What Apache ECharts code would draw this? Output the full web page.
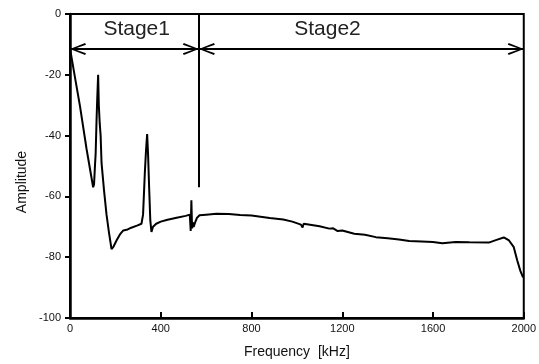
<!DOCTYPE html>
<html>
<head>
<meta charset="utf-8">
<script src="https://cdn.jsdelivr.net/npm/echarts@6/dist/echarts.min.js"></script>
<style>
  html, body { margin: 0; padding: 0; background: #fff; }
  #chart { width: 539px; height: 364px; }
</style>
</head>
<body>
<div id="chart"></div>
<script>
// frequency (kHz) and amplitude
const freq = [
  0, 20, 44, 73, 102, 106, 110, 113, 117, 120, 124, 127, 131, 135, 139, 150, 161, 172, 183,
  192, 205, 220, 235, 250, 270, 295, 315, 322, 330, 335, 340, 344, 349, 354, 359, 366, 380,
  400, 430, 470, 510, 528, 532, 535, 538, 541, 545, 552, 560, 571, 600, 645, 700, 750, 800,
  880, 940, 980, 1018, 1025, 1030, 1100, 1143, 1160, 1180, 1200, 1253, 1300, 1348, 1400,
  1450, 1495, 1550, 1600, 1641, 1700, 1760, 1846, 1880, 1912, 1935, 1956, 1971, 1985, 1996, 2000
];
const amp = [
  -11.3, -20, -30.3, -44.4, -57, -56, -50, -46, -35, -28, -20, -30, -36, -40, -49, -58, -66, -72, -77.3,
  -76.5, -74.5, -72.5, -71.2, -71, -70.3, -69.6, -69, -66, -52, -45, -39.5, -46, -57.5, -68, -71.7, -70, -69,
  -68.3, -67.7, -67, -66.4, -66, -71.4, -61.3, -70.5, -68.5, -70, -68.5, -67, -66.2, -66, -65.7, -65.8, -66.1, -66.3,
  -67.1, -67.6, -68.3, -69.3, -70.2, -69, -69.8, -70.6, -70.5, -71.4, -71.2, -72.3, -72.6, -73.4, -73.8,
  -74.2, -74.7, -74.8, -75.0, -75.4, -75.0, -75.1, -75.2, -74.3, -73.5, -74.5, -76.7, -81, -84.5, -86.5, -86.5
];
const xTicks = [0, 400, 800, 1200, 1600, 2000];
const yTicks = [-100, -80, -60, -40, -20, 0];

// stage annotations
const stageLevel = -11.5;
const stageSplit = 568;
const splitBottom = -57;
const stageNames = ['Stage1', 'Stage2'];
const stageLabelX = [294, 1135];
const stageLabelY = -4.9;

const font = '"Liberation Sans", Arial, sans-serif';
const chevron = 'path://M0,10 L5,0 L10,10 L8.6,10.6 L5,2.6 L1.4,10.6 Z';

const chart = echarts.init(document.getElementById('chart'));

const option = {
  animation: false,
  backgroundColor: '#fff',
  grid: {
    left: 70, right: 14, top: 14, bottom: 43,
    show: true, borderColor: '#000', borderWidth: 2, backgroundColor: 'transparent'
  },
  xAxis: {
    type: 'value',
    min: xTicks[0], max: xTicks[xTicks.length - 1], interval: 400,
    name: 'Frequency  [kHz]', nameLocation: 'middle', nameGap: 27,
    nameTextStyle: { fontFamily: font, fontSize: 14, color: '#111' },
    axisLine: { onZero: false, lineStyle: { color: '#000', width: 2.5 } },
    axisTick: { inside: true, length: 6, lineStyle: { color: '#000', width: 2 } },
    axisLabel: { margin: 5, fontFamily: font, fontSize: 11, color: '#111', formatter: v => String(v) },
    splitLine: { show: false }
  },
  yAxis: {
    type: 'value',
    min: yTicks[0], max: yTicks[yTicks.length - 1], interval: 20,
    axisLine: { onZero: false, lineStyle: { color: '#000', width: 2.5 } },
    axisTick: { inside: false, length: 5, lineStyle: { color: '#000', width: 2 } },
    axisLabel: { margin: 9, fontFamily: font, fontSize: 11, color: '#111', formatter: v => String(v) },
    splitLine: { show: false }
  },
  graphic: [{
    type: 'text', x: 22, y: 182, rotation: Math.PI / 2,
    style: { text: 'Amplitude', font: '14px ' + font, fill: '#111', align: 'center', verticalAlign: 'middle' }
  }],
  series: [{
    type: 'line',
    data: freq.map((f, i) => [f, amp[i]]),
    showSymbol: false,
    lineStyle: { color: '#000', width: 2 },
    silent: true,
    markLine: {
      silent: true,
      animation: false,
      symbol: [chevron, chevron],
      symbolSize: [12, 16],
      symbolOffset: [[0, 8], [0, 8]],
      lineStyle: { color: '#000', width: 2, type: 'solid' },
      label: { show: false },
      emphasis: { disabled: true },
      data: [
        [{ coord: [xTicks[0], stageLevel] }, { coord: [stageSplit, stageLevel] }],
        [{ coord: [stageSplit, stageLevel] }, { coord: [xTicks[xTicks.length - 1], stageLevel] }],
        [{ coord: [stageSplit, 0], symbol: 'none' }, { coord: [stageSplit, splitBottom], symbol: 'none' }]
      ]
    },
    markPoint: {
      silent: true,
      symbol: 'rect',
      symbolSize: 1,
      itemStyle: { color: 'transparent' },
      label: {
        show: true, position: 'inside', fontFamily: font, fontSize: 21, color: '#222',
        formatter: p => p.name
      },
      data: stageNames.map((n, i) => ({ name: n, coord: [stageLabelX[i], stageLabelY] }))
    }
  }]
};

chart.setOption(option);
window.addEventListener('resize', () => chart.resize());
</script>
</body>
</html>
